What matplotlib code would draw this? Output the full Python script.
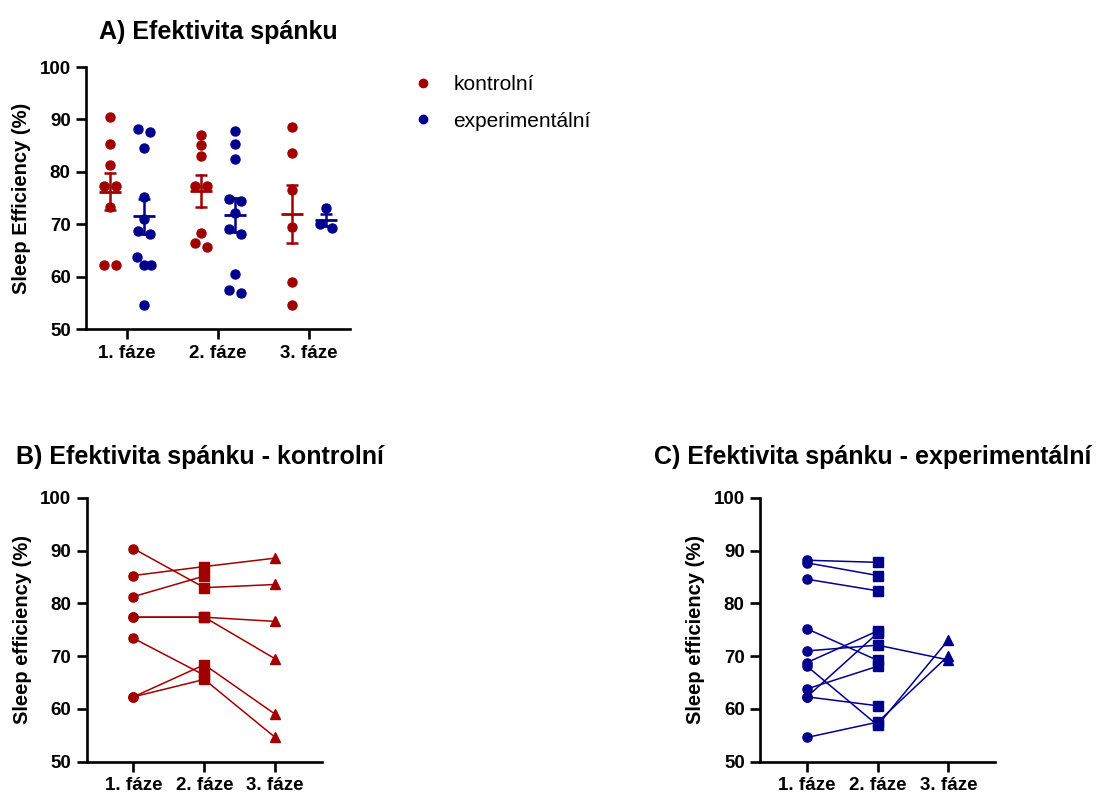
import numpy as np
import matplotlib
matplotlib.use("Agg")
import matplotlib.pyplot as plt
from matplotlib.lines import Line2D

plt.rcParams['font.family'] = ['Liberation Sans', 'DejaVu Sans']

# ---- data: sleep efficiency (%) per subject, phases 1-3 (nan = not measured)
phases = ["1. fáze", "2. fáze", "3. fáze"]

control_p1 = [90.4, 85.3, 81.3, 77.4, 77.4, 73.4, 62.3, 62.3]
control_p2 = [83.0, 87.0, 85.2, 77.4, 77.4, 66.4, 68.4, 65.6]
control_p3 = [83.6, 88.6, np.nan, 76.6, 69.5, np.nan, 59.0, 54.6]

exper_p1 = [88.2, 87.7, 84.6, 75.2, 71.0, 68.8, 68.1, 63.8, 62.3, 62.3, 54.6]
exper_p2 = [87.8, 85.3, 82.4, 69.2, 72.1, 74.8, 56.9, 68.1, 74.4, 60.6, 57.5]
exper_p3 = [np.nan, np.nan, np.nan, np.nan, 69.3, np.nan, 73.1, np.nan, np.nan, np.nan, 70.1]

group_labels = ["kontrolní", "experimentální"]

RED = "#A00000"
BLUE = "#00008C"

W, H = 1104, 797
fig = plt.figure(figsize=(W / 100, H / 100), dpi=100)


def px_axes(left, top, right, bottom):
    return fig.add_axes([left / W, 1 - bottom / H, (right - left) / W, (bottom - top) / H])


def style_axes(ax, xlim):
    ax.set_ylim(50, 100)
    ax.set_xlim(*xlim)
    ax.set_yticks(np.arange(50, 101, 10))
    ax.set_xticks([1, 2, 3])
    ax.set_xticklabels(phases)
    for s in ("top", "right"):
        ax.spines[s].set_visible(False)
    for s in ("left", "bottom"):
        ax.spines[s].set_linewidth(1.9)
    ax.tick_params(axis="both", length=7, width=1.9, labelsize=13.5, pad=4)
    for lab in ax.get_xticklabels() + ax.get_yticklabels():
        lab.set_fontweight("bold")


def swarm_offsets(vals, thresh=1.6, pair=0.063, step=0.074):
    vals = np.asarray(vals, dtype=float)
    order = np.argsort(-vals)
    offs = np.zeros(len(vals))
    clusters, cur = [], [order[0]]
    for a, b in zip(order[:-1], order[1:]):
        if vals[a] - vals[b] < thresh:
            cur.append(b)
        else:
            clusters.append(cur)
            cur = [b]
    clusters.append(cur)
    for c in clusters:
        n = len(c)
        if n == 2:
            offs[c[0]], offs[c[1]] = -pair, pair
        elif n > 2:
            for i, idx in enumerate(c):
                offs[idx] = (i - (n - 1) / 2) * step
    return offs


# ---- A) scatter with mean ± SEM
axA = px_axes(86, 67, 350, 329.3)
style_axes(axA, (0.55, 3.45))
groups = [(control_p1, control_p2, control_p3), (exper_p1, exper_p2, exper_p3)]
colors = [RED, BLUE]
shift = [-0.187, 0.187]
for g, (series, col, sh) in enumerate(zip(groups, colors, shift)):
    for i, vals in enumerate(series):
        v = np.asarray(vals, dtype=float)
        v = v[~np.isnan(v)]
        xc = i + 1 + sh
        axA.plot(xc + swarm_offsets(v), v, "o", color=col, ms=6.5, mec=col, zorder=3, clip_on=False)
        m = v.mean()
        sem = v.std(ddof=1) / np.sqrt(len(v))
        axA.plot([xc - 0.12, xc + 0.12], [m, m], color=col, lw=2.0, zorder=4, solid_capstyle="butt")
        axA.plot([xc, xc], [m - sem, m + sem], color=col, lw=1.8, zorder=4)
        for yy in (m - sem, m + sem):
            axA.plot([xc - 0.066, xc + 0.066], [yy, yy], color=col, lw=1.8, zorder=4,
                     solid_capstyle="butt")
axA.set_ylabel("Sleep Efficiency (%)", fontsize=14.5, fontweight="bold", labelpad=6)
axA.set_title("A) Efektivita spánku", fontsize=18, fontweight="bold", pad=20, x=0.5)

handles = [Line2D([], [], ls="none", marker="o", ms=6, color=c) for c in colors]
fig.legend(handles, group_labels, loc="upper left", bbox_to_anchor=(413 / W, 1 - 75 / H),
           frameon=False, fontsize=15, handlelength=1.0, handletextpad=0.95, labelspacing=0.85,
           borderaxespad=0, borderpad=0)


# ---- B) and C) paired lines per subject
def paired_panel(ax, p1, p2, p3, col):
    data = np.column_stack([p1, p2, p3]).astype(float)
    x = np.array([1, 2, 3])
    for row in data:
        ax.plot(x, row, color=col, lw=1.1, zorder=2)
    markers = ["o", "s", "^"]
    sizes = [6.6, 7.3, 7.6]
    for j in range(3):
        col_vals = data[:, j]
        ax.plot(np.full(col_vals.shape, x[j]), col_vals, ls="none", marker=markers[j],
                ms=sizes[j], color=col, mec=col, zorder=3, clip_on=False)


axB = px_axes(86.7, 498, 322, 761.7)
style_axes(axB, (0.34, 3.66))
paired_panel(axB, control_p1, control_p2, control_p3, RED)
axB.set_ylabel("Sleep efficiency (%)", fontsize=14.5, fontweight="bold", labelpad=6)
fig.text(200 / W, 1 - 457 / H, "B) Efektivita spánku - kontrolní", fontsize=18,
         fontweight="bold", ha="center", va="center")

axC = px_axes(760, 498, 995, 761.7)
style_axes(axC, (0.335, 3.66))
paired_panel(axC, exper_p1, exper_p2, exper_p3, BLUE)
axC.set_ylabel("Sleep efficiency (%)", fontsize=14.5, fontweight="bold", labelpad=6)
fig.text(873 / W, 1 - 457 / H, "C) Efektivita spánku - experimentální", fontsize=18,
         fontweight="bold", ha="center", va="center")

fig.savefig("out.png", dpi=100)
